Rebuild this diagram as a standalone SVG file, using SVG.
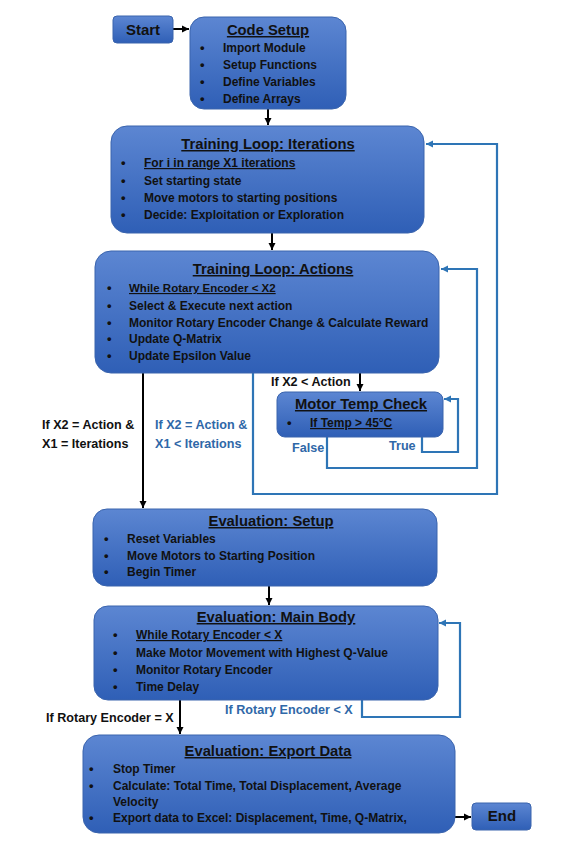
<svg xmlns="http://www.w3.org/2000/svg" width="573" height="850" viewBox="0 0 573 850">
<defs>
<linearGradient id="g" x1="0" y1="0" x2="0" y2="1">
<stop offset="0" stop-color="#5c86d2"/>
<stop offset="1" stop-color="#2f5fb6"/>
</linearGradient>
<marker id="ak" markerWidth="8" markerHeight="8" refX="7" refY="4" orient="auto" markerUnits="userSpaceOnUse">
<path d="M0,0.5 L7,4 L0,7.5 Z" fill="#000"/>
</marker>
<marker id="ab" markerWidth="8" markerHeight="8" refX="7" refY="4" orient="auto" markerUnits="userSpaceOnUse">
<path d="M0,0.5 L7,4 L0,7.5 Z" fill="#2e75b6"/>
</marker>
</defs>
<style>
.box{fill:url(#g);stroke:#3a64ad;stroke-width:1}
text{font-family:"Liberation Sans",Arial,sans-serif;font-weight:bold;fill:#111}
.t{font-size:14.8px;text-anchor:middle;text-decoration:underline}
.b{font-size:12px}
.d{font-size:13px}
.u{text-decoration:underline}
.bl{fill:#2f68a8}
.l{font-size:12.6px}
.k{fill:none;stroke:#000;stroke-width:2}
.bc{fill:none;stroke:#2e75b6;stroke-width:2.2}
</style>
<rect width="573" height="850" fill="#fff"/>

<g id="connectors">
<line class="k" x1="173" y1="29" x2="189" y2="29" marker-end="url(#ak)"/>
<line class="k" x1="268" y1="109" x2="268" y2="125" marker-end="url(#ak)"/>
<line class="k" x1="272" y1="233" x2="272" y2="250" marker-end="url(#ak)"/>
<line class="k" x1="360" y1="373" x2="360" y2="391" marker-end="url(#ak)"/>
<line class="k" x1="143" y1="373" x2="143" y2="508" marker-end="url(#ak)"/>
<line class="k" x1="269" y1="586" x2="269" y2="605" marker-end="url(#ak)"/>
<line class="k" x1="180" y1="700" x2="180" y2="734" marker-end="url(#ak)"/>
<line class="k" x1="455" y1="817" x2="471" y2="817" marker-end="url(#ak)"/>
<polyline class="bc" points="253,373 253,494 497,494 497,144 426,144" marker-end="url(#ab)"/>
<polyline class="bc" points="327,437 327,468 477,468 477,269 441,269" marker-end="url(#ab)"/>
<polyline class="bc" points="422,437 422,452 458,452 458,399 444,399" marker-end="url(#ab)"/>
<polyline class="bc" points="362,700 362,717 460,717 460,623 439,623" marker-end="url(#ab)"/>
<text class="l" x="271" y="386">If X2 &lt; Action</text>
<text class="l" x="42" y="429">If X2 = Action &amp;</text>
<text class="l" x="42" y="448">X1 = Iterations</text>
<text class="l bl" x="155" y="429">If X2 = Action &amp;</text>
<text class="l bl" x="155" y="448">X1 &lt; Iterations</text>
<text class="l bl" x="292" y="452">False</text>
<text class="l bl" x="389" y="450">True</text>
<text class="l bl" x="225" y="714">If Rotary Encoder &lt; X</text>
<text class="l" x="46" y="722">If Rotary Encoder = X</text>
</g>

<g id="start">
<rect class="box" x="113" y="16" width="60" height="27" rx="4"/>
<text x="143" y="35" font-size="15" text-anchor="middle">Start</text>
</g>

<g id="code-setup">
<rect class="box" x="190" y="17" width="156" height="92" rx="14"/>
<text class="t" x="268" y="35">Code Setup</text>
<g class="b">
<text class="d" x="200" y="52">•</text><text x="223" y="52">Import Module</text>
<text class="d" x="200" y="69">•</text><text x="223" y="69">Setup Functions</text>
<text class="d" x="200" y="86">•</text><text x="223" y="86">Define Variables</text>
<text class="d" x="200" y="103">•</text><text x="223" y="103">Define Arrays</text>
</g>
</g>

<g id="training-iterations">
<rect class="box" x="111" y="126" width="313" height="107" rx="16"/>
<text class="t" x="268" y="149">Training Loop: Iterations</text>
<g class="b">
<text class="d" x="121" y="167">•</text><text class="u" x="144" y="167">For i in range X1 iterations</text>
<text class="d" x="121" y="185">•</text><text x="144" y="185">Set starting state</text>
<text class="d" x="121" y="202">•</text><text x="144" y="202">Move motors to starting positions</text>
<text class="d" x="121" y="219">•</text><text x="144" y="219">Decide: Exploitation or Exploration</text>
</g>
</g>

<g id="training-actions">
<rect class="box" x="95" y="251" width="344" height="122" rx="16"/>
<text class="t" x="273" y="274">Training Loop: Actions</text>
<g class="b">
<text class="d" x="107" y="292">•</text><text class="u" x="129" y="292" font-size="11.5">While Rotary Encoder &lt; X2</text>
<text class="d" x="107" y="310">•</text><text x="129" y="310">Select &amp; Execute next action</text>
<text class="d" x="107" y="327">•</text><text x="129" y="327">Monitor Rotary Encoder Change &amp; Calculate Reward</text>
<text class="d" x="107" y="343">•</text><text x="129" y="343">Update Q-Matrix</text>
<text class="d" x="107" y="360">•</text><text x="129" y="360">Update Epsilon Value</text>
</g>
</g>

<g id="motor-temp">
<rect class="box" x="277" y="392" width="166" height="45" rx="8"/>
<text class="t" x="361" y="409">Motor Temp Check</text>
<text class="d" x="287" y="427">•</text>
<text class="b u" x="310" y="427">If Temp &gt; 45°C</text>
</g>

<g id="eval-setup">
<rect class="box" x="93" y="509" width="344" height="77" rx="14"/>
<text class="t" x="271" y="526">Evaluation: Setup</text>
<g class="b">
<text class="d" x="104" y="543">•</text><text x="127" y="543">Reset Variables</text>
<text class="d" x="104" y="560">•</text><text x="127" y="560">Move Motors to Starting Position</text>
<text class="d" x="104" y="576">•</text><text x="127" y="576">Begin Timer</text>
</g>
</g>

<g id="eval-main">
<rect class="box" x="94" y="606" width="344" height="94" rx="14"/>
<text class="t" x="276" y="622">Evaluation: Main Body</text>
<g class="b">
<text class="d" x="113" y="639">•</text><text class="u" x="136" y="639">While Rotary Encoder &lt; X</text>
<text class="d" x="113" y="657">•</text><text x="136" y="657">Make Motor Movement with Highest Q-Value</text>
<text class="d" x="113" y="674">•</text><text x="136" y="674">Monitor Rotary Encoder</text>
<text class="d" x="113" y="691">•</text><text x="136" y="691">Time Delay</text>
</g>
</g>

<g id="eval-export">
<rect class="box" x="83" y="735" width="372" height="98" rx="16"/>
<text class="t" x="268" y="756">Evaluation: Export Data</text>
<g class="b">
<text class="d" x="89" y="773">•</text><text x="113" y="773">Stop Timer</text>
<text class="d" x="89" y="790">•</text><text x="113" y="790">Calculate: Total Time, Total Displacement, Average</text>
<text x="113" y="806">Velocity</text>
<text class="d" x="89" y="822">•</text><text x="113" y="822">Export data to Excel: Displacement, Time, Q-Matrix,</text>
</g>
</g>

<g id="end">
<rect class="box" x="472" y="803" width="59" height="27" rx="4"/>
<text x="502" y="821" font-size="15" text-anchor="middle">End</text>
</g>
</svg>
